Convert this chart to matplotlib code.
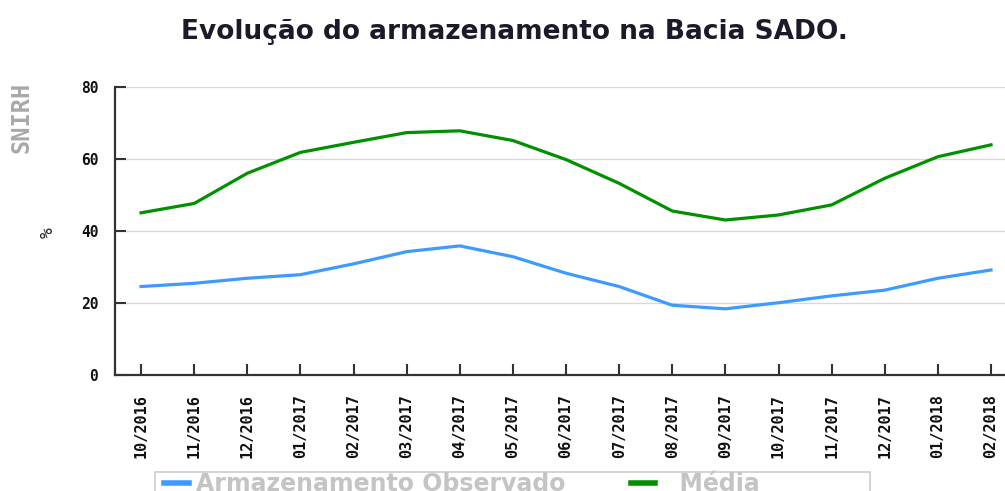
import matplotlib
matplotlib.use("Agg")
import matplotlib.pyplot as plt
from matplotlib.patches import Rectangle

# =====================================================
#                 DATA
# =====================================================
months = ["10/2016", "11/2016", "12/2016", "01/2017", "02/2017", "03/2017",
          "04/2017", "05/2017", "06/2017", "07/2017", "08/2017", "09/2017",
          "10/2017", "11/2017", "12/2017", "01/2018", "02/2018"]
observado = [24.6, 25.5, 26.9, 27.9, 30.9, 34.3, 35.9, 32.9, 28.3,
             24.6, 19.4, 18.4, 20.1, 22.0, 23.6, 26.9, 29.2]
media = [45.1, 47.7, 56.1, 61.9, 64.7, 67.4, 67.9, 65.2, 59.9,
         53.3, 45.6, 43.1, 44.5, 47.3, 54.7, 60.7, 64.0]
yticks = [0, 20, 40, 60, 80]

W, H = 1005, 491
fig = plt.figure(figsize=(W/100, H/100), dpi=100)
ax = fig.add_axes([115/W, (H-375)/H, (W-115)/W, (375-87.3)/H])

x = list(range(len(months)))
l1, = ax.plot(x, observado, color="#3d9bff", lw=2.3, solid_joinstyle="round")
l2, = ax.plot(x, media, color="#009000", lw=2.3, solid_joinstyle="round")

ax.set_xlim(-0.49, (W-141)/53.125)
ax.set_ylim(0, 80)
ax.set_yticks(yticks)
ax.set_xticks(x)
ax.set_xticklabels(months, rotation=90, va="top")
ax.grid(axis="y", color="#d8d8d8", lw=1)
ax.set_axisbelow(True)

for s in ["top", "right"]:
    ax.spines[s].set_visible(False)
for s in ["left", "bottom"]:
    ax.spines[s].set_color("#333333")
    ax.spines[s].set_linewidth(1.6)

ax.tick_params(axis="both", direction="in", length=8, width=1.5, color="#333333")
ax.tick_params(axis="y", pad=12)
ax.tick_params(axis="x", pad=14)
for lab in ax.get_xticklabels():
    lab.set_fontproperties({"family": "DejaVu Sans Mono", "weight": "bold", "size": 11})
    lab.set_color("#111111")
for lab in ax.get_yticklabels():
    lab.set_fontproperties({"family": "DejaVu Sans Mono", "weight": "bold", "size": 10.5})
    lab.set_color("#111111")

fig.text(514/W, 1-32/H, "Evolução do armazenamento na Bacia SADO.",
         ha="center", va="center", fontsize=19, fontweight="bold", color="#1a1a2a")
fig.text(22/W, 1-117/H, "SNIRH", rotation=90, ha="center", va="center",
         family="DejaVu Sans Mono", fontweight="bold", fontsize=17, color="#a8a8a8")
fig.text(48/W, 1-233/H, "%", rotation=90, ha="center", va="center",
         family="DejaVu Sans Mono", fontsize=13, color="#222222")

# legend frame, cut by the bottom edge as in the original
fig.patches.append(Rectangle((155/W, -0.05), (870-155)/W, 0.05 + (H-472)/H,
                             transform=fig.transFigure, fill=False,
                             edgecolor="#cccccc", lw=1.2))
leg = fig.legend([l1, l2], ["Armazenamento Observado", "  Média"], ncol=2,
                 loc="upper left", bbox_to_anchor=(162/W, 1-470/H),
                 frameon=False,
                 prop={"family": "DejaVu Sans", "weight": "bold", "size": 17},
                 labelcolor="#c4c4c4", handlelength=1.05, handletextpad=0.3,
                 columnspacing=2.75, borderpad=0.1, borderaxespad=0)
for h in leg.legend_handles:
    h.set_linewidth(4)

fig.savefig("out.png", dpi=100)
